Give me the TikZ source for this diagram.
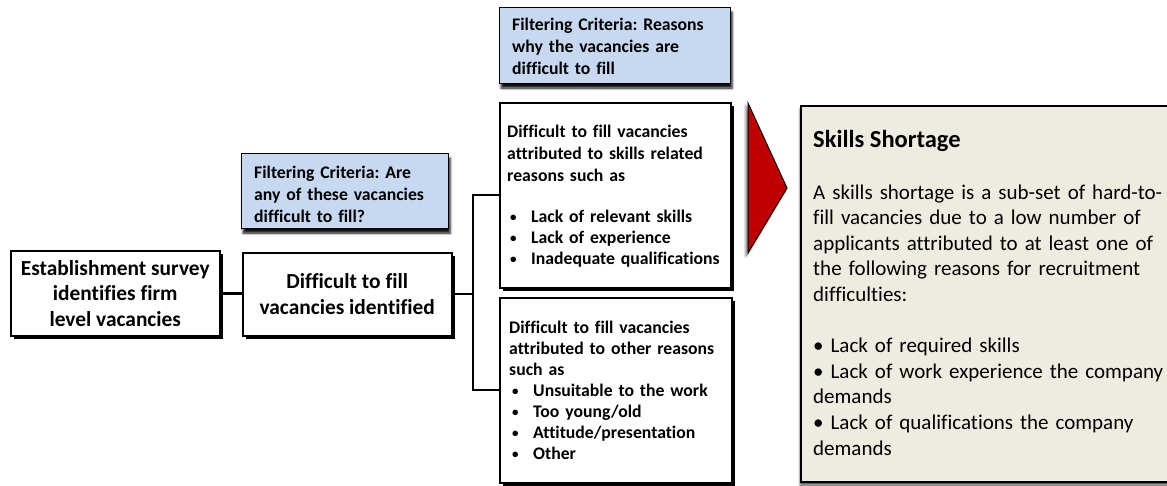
\documentclass[tikz,border=0pt]{standalone}
\usepackage{fontspec}
\setmainfont{Carlito}[Ligatures={TeX,NoCommon}]
\frenchspacing
\usetikzlibrary{shadows,shadows.blur}
\definecolor{critblue}{RGB}{198,217,241}
\definecolor{beige}{RGB}{238,236,225}
\definecolor{arrowred}{RGB}{192,0,0}
\tikzset{
  whitebox/.style={draw=black, line width=1.5pt, fill=white, inner sep=0pt, anchor=north west,
    drop shadow={shadow xshift=3.5pt, shadow yshift=-3.5pt, opacity=1, fill=black}},
  bluebox/.style={draw=black, line width=1.2pt, fill=critblue, inner sep=0pt, anchor=north west,
    blur shadow={shadow xshift=1.5pt, shadow yshift=-4.5pt, shadow blur radius=2.5pt, shadow opacity=95}},
  skillbox/.style={draw=black, line width=2pt, fill=beige, inner sep=0pt, anchor=north west,
    blur shadow={shadow xshift=-1pt, shadow yshift=-3pt, shadow blur radius=2pt, shadow opacity=70}},
  conn/.style={draw=black, line width=2.6pt},
  bigtxt/.style={font={\fontsize{21.4}{25.5}\selectfont\bfseries}, align=center},
  smalltxt/.style={inner sep=0pt, anchor=base west, align=left, text width=225pt,
    font={\fontsize{17.7}{22}\selectfont\bfseries}},
  bodytxt/.style={inner sep=0pt, anchor=base west, align=left, text width=360pt,
    font={\fontsize{21}{25.6}\selectfont}},
}
\newcommand{\blt}{\makebox[21pt][l]{\raisebox{1pt}{\fontsize{13}{13}\selectfont\textbullet}}}
\begin{document}
\begin{tikzpicture}[x=1pt,y=-1pt]
\useasboundingbox (0,0) rectangle (1167,485);
% boxes
\node[whitebox, bigtxt, minimum width=209pt, minimum height=85pt] (A) at (10,250)
  {Establishment survey\\identifies firm\\level vacancies};
\node[whitebox, bigtxt, minimum width=209pt, minimum height=83pt] (B) at (242,252)
  {Difficult to fill\\vacancies identified};
\node[bluebox, minimum width=207pt, minimum height=75pt] (F1) at (241,153) {};
\node[bluebox, minimum width=231pt, minimum height=76pt] (F2) at (499,7) {};
\node[whitebox, minimum width=231pt, minimum height=185pt] (C) at (499,102) {};
\node[whitebox, minimum width=232pt, minimum height=185pt] (D) at (499,297) {};
\node[skillbox, minimum width=380pt, minimum height=376pt] (S) at (800,105) {};
% arrow
\path[draw=black, line width=1pt, fill=arrowred,
  blur shadow={shadow xshift=-2pt, shadow yshift=-3pt, shadow blur radius=2.5pt, shadow opacity=60}]
  (748,103) -- (787,188) -- (748,253) -- cycle;
% connectors
\coordinate (J) at (473,294);
\coordinate (Jt) at (473,195);
\coordinate (Jb) at (473,390);
\draw[conn] (A.east) -- (A.east -| B.west);
\draw[conn] (B.east |- J) -- (J);
\draw[conn, line join=miter] (C.west |- Jt) -- (Jt) -- (Jb) -- (D.west |- Jb);
% texts
\node[smalltxt] (tF1) at (254,178) {Filtering Criteria: Are\\any of these vacancies\\difficult to fill?};
\node[smalltxt] (tF2) at (512,30) {Filtering Criteria: Reasons\\why the vacancies are\\difficult to fill};
\node[smalltxt] (tC) at (507,137) {Difficult to fill vacancies\\attributed to skills related\\reasons such as};
\node[smalltxt, font={\fontsize{17.7}{21}\selectfont\bfseries}] (tCl) at (510,222)
  {\blt Lack of relevant skills\\\blt Lack of experience\\\blt Inadequate qualifications};
\node[smalltxt, font={\fontsize{17.7}{21.2}\selectfont\bfseries}] (tD) at (509,333)
  {Difficult to fill vacancies\\attributed to other reasons\\such as};
\node[smalltxt, font={\fontsize{17.7}{21.2}\selectfont\bfseries}] (tDl) at (512,396)
  {\blt Unsuitable to the work\\\blt Too young/old\\\blt Attitude/presentation\\\blt Other};
\node[inner sep=0pt, anchor=base west, font={\fontsize{24.5}{30}\selectfont\bfseries}] (tS) at (813,147)
  {Skills Shortage};
\node[bodytxt] (tSb) at (813,199)
  {A skills shortage is a sub-set of hard-to-\\fill vacancies due to a low number of\\applicants attributed to at least one of\\the following reasons for recruitment\\difficulties:\\[25.6pt]%
   \textbullet\ Lack of required skills\\\textbullet\ Lack of work experience the company\\demands\\\textbullet\ Lack of qualifications the company\\demands};
\end{tikzpicture}
\end{document}
